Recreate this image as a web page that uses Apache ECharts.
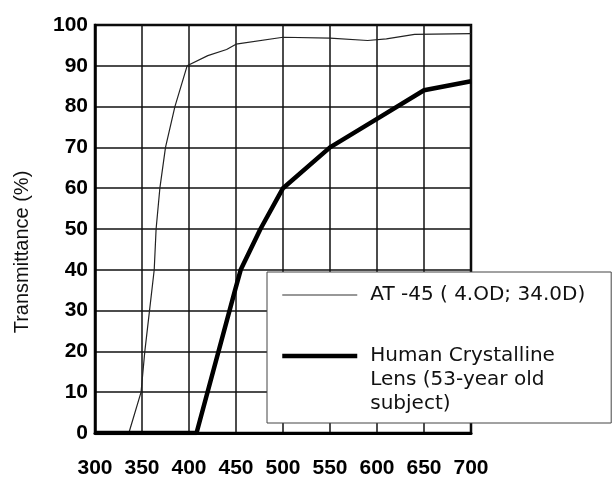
<!DOCTYPE html>
<html>
<head>
<meta charset="utf-8">
<script src="https://cdn.jsdelivr.net/npm/echarts@6/dist/echarts.min.js"></script>
<style>
html,body{margin:0;padding:0;background:#fff;}
#chart{width:613px;height:483px;}
</style>
</head>
<body>
<div id="chart"></div>
<script>
// Tick labels
var xTicks = [300, 350, 400, 450, 500, 550, 600, 650, 700];
var yTicks = [0, 10, 20, 30, 40, 50, 60, 70, 80, 90, 100];

// Series names
var seriesNames = ['AT -45 ( 4.OD; 34.0D)', 'Human Crystalline\nLens (53-year old\nsubject)'];

// AT -45 (thin line)
var atWavelength = [300, 336, 349, 353, 358, 363, 365, 369, 375, 385, 398, 420, 440, 450, 500, 550, 590, 610, 640, 700];
var atValues     = [0,   0,   10,  20,  30,  40,  50,  60,  70,  80,  90,  92.5, 94, 95.3, 97, 96.8, 96.2, 96.6, 97.7, 97.9];

// Human crystalline lens (thick line)
var lensWavelength = [300, 408, 449, 455, 476, 500, 550, 600, 650, 700];
var lensValues     = [0,   0,   35,  40,  50,  60,  70,  77,  84,  86.2];

function pairs(xs, ys) {
  return xs.map(function (x, i) { return [x, ys[i]]; });
}

var chart = echarts.init(document.getElementById('chart'), null, {renderer: 'canvas'});

var tickFont = {fontFamily: 'Liberation Sans', fontWeight: 'bold', fontSize: 21, color: '#000'};
var hiddenSymbol = {opacity: 0, color: 'rgba(0,0,0,0)', borderWidth: 0};

chart.setOption({
  backgroundColor: '#fff',
  animation: false,
  grid: {
    left: 95, right: 142, top: 25, bottom: 50,
    show: true, borderColor: '#000', borderWidth: 2.5, backgroundColor: 'transparent'
  },
  xAxis: {
    type: 'value',
    min: xTicks[0], max: xTicks[xTicks.length - 1],
    interval: xTicks[1] - xTicks[0],
    axisLine: {show: true, lineStyle: {color: '#000', width: 3}},
    axisTick: {show: false},
    splitLine: {show: true, lineStyle: {color: '#111', width: 1.5}},
    axisLabel: Object.assign({margin: 25}, tickFont)
  },
  yAxis: {
    type: 'value',
    min: yTicks[0], max: yTicks[yTicks.length - 1],
    interval: yTicks[1] - yTicks[0],
    axisLine: {show: true, lineStyle: {color: '#000', width: 2.5}},
    axisTick: {show: false},
    splitLine: {show: true, lineStyle: {color: '#111', width: 1.5}},
    axisLabel: Object.assign({margin: 7, padding: [0, 0, 10, 0]}, tickFont)
  },
  legend: {
    orient: 'vertical',
    left: 267, top: 272,
    padding: [11, 26, 7, 13],
    itemGap: -11,
    itemWidth: 75, itemHeight: 14,
    backgroundColor: '#fff',
    borderColor: '#444', borderWidth: 1, borderRadius: 0,
    selectedMode: false,
    textStyle: {fontFamily: 'DejaVu Sans', fontSize: 20, lineHeight: 24, color: '#111', padding: [0, 0, 0, 8]},
    formatter: function (name) {
      // keep the icon beside the first line of the multi-line label
      return name === seriesNames[1] ? '\n\n' + name : name;
    },
    data: [
      {name: seriesNames[0], lineStyle: {width: 1.2, color: '#333'}, itemStyle: hiddenSymbol},
      {name: seriesNames[1], lineStyle: {width: 4.5, color: '#000'}, itemStyle: hiddenSymbol}
    ]
  },
  graphic: [{
    type: 'text',
    x: 22, y: 252,
    rotation: Math.PI / 2,
    style: {
      text: 'Transmittance (%)',
      fontFamily: 'Liberation Sans', fontSize: 20, fill: '#111',
      align: 'center', verticalAlign: 'middle'
    }
  }],
  series: [
    {
      name: seriesNames[0], type: 'line', symbol: 'none', z: 3,
      lineStyle: {color: '#222', width: 1.2},
      itemStyle: {color: '#222'},
      data: pairs(atWavelength, atValues)
    },
    {
      name: seriesNames[1], type: 'line', symbol: 'none', z: 3,
      lineStyle: {color: '#000', width: 4.5},
      itemStyle: {color: '#000'},
      data: pairs(lensWavelength, lensValues)
    }
  ]
});
</script>
</body>
</html>
